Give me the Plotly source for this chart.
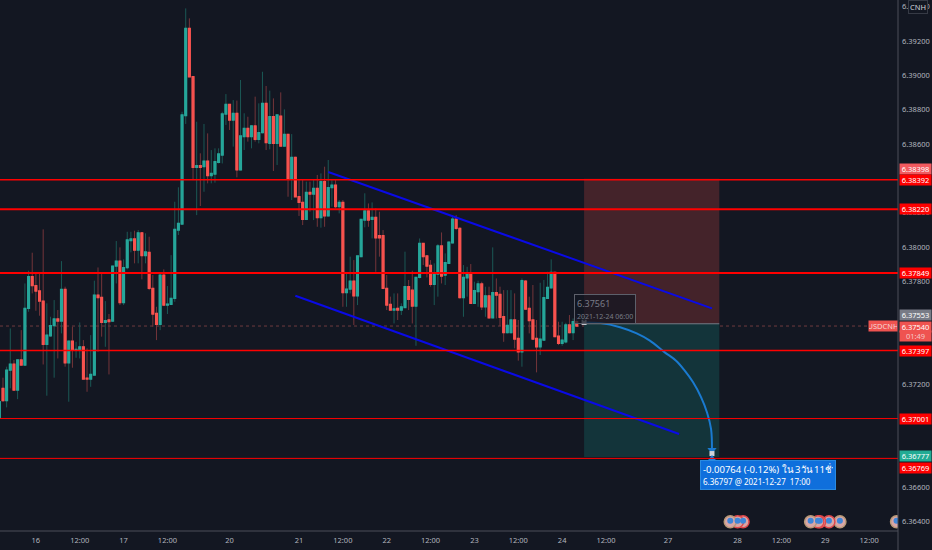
import numpy as np
import pandas as pd
import plotly.graph_objects as go

# hourly USDCNH bars, session closes sat 05:00 / opens mon 05:00
times = list(pd.date_range("2021-12-15 14:00", periods=63, freq="h")) + list(pd.date_range("2021-12-20 05:00", periods=96, freq="h"))

open_ = [6.37002,6.37177,6.37105,6.37283,6.37318,6.37167,6.37342,6.37313,6.37643,6.37827,
6.37775,6.37744,6.37685,6.37433,6.37483,6.37542,6.37581,6.37569,6.37753,6.37326,
6.37452,6.37400,6.37400,6.37419,6.37237,6.37231,6.37254,6.37720,6.37707,6.37561,
6.37575,6.37569,6.37889,6.37918,6.37676,6.37880,6.38037,6.38047,6.37982,6.38083,
6.37950,6.37969,6.37759,6.37614,6.37549,6.37837,6.37662,6.37666,6.37701,6.38099,
6.38134,6.38765,6.39274,6.38992,6.38464,6.38474,6.38468,6.38501,6.38416,6.38425,
6.38493,6.38536,6.38775,6.38831,6.38740,6.38779,6.38449,6.38643,6.38691,6.38643,
6.38705,6.38627,6.38666,6.38837,6.38604,6.38759,6.38604,6.38763,6.38588,6.38656,
6.38396,6.38522,6.38293,6.38260,6.38161,6.38318,6.38309,6.38342,6.38171,6.38381,
6.38181,6.38346,6.38361,6.38235,6.38260,6.37734,6.37755,6.37802,6.37716,6.37944,
6.38157,6.38210,6.38161,6.38173,6.38066,6.38066,6.37759,6.37666,6.37633,6.37643,
6.37633,6.37648,6.37769,6.37749,6.37656,6.37823,6.38021,6.37948,6.37893,6.37782,
6.37843,6.38006,6.37837,6.37905,6.38025,6.38163,6.38109,6.37705,6.37821,6.37850,
6.37672,6.37740,6.37785,6.37652,6.37716,6.37588,6.37734,6.37724,6.37594,6.37501,
6.37501,6.37575,6.37468,6.37390,6.37802,6.37643,6.37575,6.37468,6.37419,6.37458,
6.37701,6.37763,6.37852,6.37481,6.37439,6.37448,6.37546,6.37501,6.37565]

high = [6.37118,6.37239,6.37303,6.37526,6.37342,6.37346,6.37516,6.37788,6.37862,6.37967,
6.37847,6.37847,6.38103,6.37672,6.37594,6.37691,6.37633,6.37918,6.37769,6.37452,
6.37536,6.37448,6.37561,6.37458,6.37410,6.37487,6.37804,6.37881,6.37850,6.37685,
6.37610,6.37889,6.38035,6.37998,6.37928,6.38089,6.38089,6.38095,6.38099,6.38083,
6.38080,6.38060,6.37837,6.37652,6.37843,6.37870,6.37773,6.37953,6.38264,6.38348,
6.38788,6.39390,6.39332,6.38996,6.38730,6.38546,6.38717,6.38662,6.38565,6.38575,
6.38575,6.38788,6.38891,6.38831,6.38856,6.38853,6.38973,6.38779,6.38759,6.38711,
6.38876,6.38837,6.39021,6.38938,6.38911,6.38866,6.38769,6.38901,6.38802,6.38656,
6.38658,6.38526,6.38390,6.38390,6.38381,6.38381,6.38390,6.38420,6.38429,6.38468,
6.38507,6.38390,6.38390,6.38274,6.38274,6.37850,6.37944,6.37924,6.37948,6.38161,
6.38313,6.38254,6.38260,6.38225,6.38206,6.38099,6.37837,6.37711,6.37730,6.37730,
6.37672,6.37973,6.37808,6.37862,6.37823,6.38050,6.38021,6.37953,6.37924,6.37905,
6.38017,6.38085,6.37963,6.38029,6.38186,6.38186,6.38115,6.37895,6.37885,6.37901,
6.37798,6.37804,6.37798,6.37769,6.37769,6.37998,6.37817,6.37769,6.37749,6.37749,
6.37749,6.37730,6.37575,6.37817,6.37808,6.37711,6.37779,6.37575,6.37792,6.37808,
6.37856,6.37928,6.37856,6.37565,6.37565,6.37559,6.37604,6.37584,6.37594]

low = [6.36996,6.37099,6.37066,6.37177,6.37163,6.37114,6.37313,6.37313,6.37623,6.37730,
6.37629,6.37600,6.37316,6.37134,6.37478,6.37239,6.37351,6.37497,6.37303,6.37099,
6.37297,6.37355,6.37351,6.37231,6.37157,6.37186,6.37254,6.37390,6.37478,6.37419,
6.37258,6.37565,6.37788,6.37662,6.37662,6.37870,6.37969,6.37905,6.37905,6.37812,
6.37905,6.37749,6.37536,6.37458,6.37516,6.37656,6.37610,6.37662,6.37681,6.38070,
6.38134,6.38717,6.38992,6.38390,6.38186,6.38239,6.38322,6.38371,6.38371,6.38375,
6.38487,6.38487,6.38711,6.38682,6.38585,6.38406,6.38449,6.38565,6.38614,6.38575,
6.38614,6.38604,6.38662,6.38565,6.38569,6.38443,6.38478,6.38585,6.38585,6.38293,
6.38274,6.38293,6.38181,6.38128,6.38157,6.38206,6.38157,6.38118,6.38113,6.38118,
6.38181,6.38235,6.38225,6.38196,6.37652,6.37652,6.37730,6.37546,6.37662,6.37944,
6.38115,6.38118,6.38050,6.37856,6.37944,6.37755,6.37633,6.37633,6.37555,6.37575,
6.37604,6.37648,6.37633,6.37555,6.37425,6.37817,6.37895,6.37823,6.37769,6.37662,
6.37711,6.37788,6.37779,6.37901,6.38021,6.38099,6.37701,6.37594,6.37711,6.37672,
6.37672,6.37652,6.37633,6.37594,6.37584,6.37588,6.37584,6.37540,6.37448,6.37497,
6.37497,6.37410,6.37338,6.37303,6.37633,6.37497,6.37458,6.37270,6.37371,6.37458,
6.37701,6.37759,6.37478,6.37429,6.37425,6.37439,6.37497,6.37458,6.37536]

close = [6.37099,6.37105,6.37283,6.37318,6.37167,6.37342,6.37313,6.37643,6.37827,6.37775,
6.37744,6.37685,6.37433,6.37487,6.37542,6.37581,6.37569,6.37753,6.37326,6.37452,
6.37400,6.37404,6.37419,6.37231,6.37231,6.37258,6.37720,6.37705,6.37561,6.37571,
6.37565,6.37889,6.37918,6.37676,6.37880,6.38041,6.38047,6.37982,6.38083,6.37950,
6.37971,6.37759,6.37610,6.37549,6.37837,6.37662,6.37668,6.37701,6.38103,6.38138,
6.38769,6.39274,6.38992,6.38464,6.38474,6.38464,6.38501,6.38416,6.38429,6.38497,
6.38542,6.38775,6.38831,6.38740,6.38779,6.38449,6.38647,6.38691,6.38643,6.38705,
6.38627,6.38666,6.38837,6.38608,6.38759,6.38604,6.38769,6.38588,6.38656,6.38396,
6.38522,6.38293,6.38260,6.38161,6.38318,6.38309,6.38342,6.38171,6.38381,6.38181,
6.38346,6.38361,6.38235,6.38260,6.37734,6.37755,6.37802,6.37716,6.37948,6.38161,
6.38210,6.38157,6.38173,6.38054,6.38054,6.37759,6.37662,6.37633,6.37639,6.37633,
6.37652,6.37769,6.37695,6.37656,6.37823,6.38021,6.37944,6.37889,6.37782,6.37843,
6.38006,6.37831,6.37909,6.38029,6.38163,6.38109,6.37705,6.37823,6.37850,6.37672,
6.37746,6.37785,6.37652,6.37716,6.37588,6.37734,6.37720,6.37590,6.37501,6.37544,
6.37575,6.37464,6.37390,6.37804,6.37639,6.37571,6.37464,6.37419,6.37464,6.37705,
6.37765,6.37852,6.37478,6.37439,6.37458,6.37546,6.37501,6.37565,6.37540]

# horizontal levels: price, width
levels = [6.38392, 6.38220, 6.37849, 6.37397, 6.37001, 6.36769]
level_widths = [1.5, 2, 2, 1.5, 1, 1]

# channel lines
upper_x = ["2021-12-21 08:00", "2021-12-27 17:00"]
upper_y = [6.38437, 6.37643]
lower_x = ["2021-12-20 23:00", "2021-12-27 08:00"]
lower_y = [6.37716, 6.36911]

# forecast arc
arc_x = ["2021-12-24 06:00", "2021-12-24 10:30", "2021-12-24 15:50", "2021-12-24 20:24", "2021-12-25 00:00",
         "2021-12-25 04:00", "2021-12-27 07:10", "2021-12-27 09:20", "2021-12-27 11:50", "2021-12-27 14:00",
         "2021-12-27 15:40", "2021-12-27 16:45", "2021-12-27 17:00"]
arc_y = [6.37561, 6.37557, 6.37533, 6.37497, 6.37455, 6.37388, 6.37338, 6.37286, 6.37212, 6.37126,
         6.37035, 6.36940, 6.36818]

# long/short position tool
pos_start, pos_end = "2021-12-24 06:00", "2021-12-27 19:00"
pos_stop, pos_entry, pos_target = 6.38398, 6.37553, 6.36777

# economic event badges
event_x = ["2021-12-29 19:30", "2021-12-29 04:00", "2021-12-29 01:00", "2021-12-28 22:30", "2021-12-28 22:00",
           "2021-12-28 20:00", "2021-12-28 01:30", "2021-12-28 00:00", "2021-12-27 22:00"]
event_ring = ["#b99a78", "#b99a78", "#e0484c", "#e0484c", "#e0484c", "#b99a78", "#e0484c", "#e0484c", "#b99a78"]
event_price = 6.36400

x_ticks = ["2021-12-16 00:00", "2021-12-16 12:00", "2021-12-17 00:00", "2021-12-17 12:00", "2021-12-20 05:00",
           "2021-12-21 00:00", "2021-12-21 12:00", "2021-12-22 00:00", "2021-12-22 12:00", "2021-12-23 00:00",
           "2021-12-23 12:00", "2021-12-24 00:00", "2021-12-24 12:00", "2021-12-27 05:00", "2021-12-28 00:00",
           "2021-12-28 12:00", "2021-12-29 00:00", "2021-12-29 12:00"]
x_labels = ["16", "12:00", "17", "12:00", "20", "21", "12:00", "22", "12:00", "23", "12:00", "24", "12:00",
            "27", "28", "12:00", "29", "12:00"]
y_ticks = [6.364, 6.366, 6.368, 6.370, 6.372, 6.374, 6.376, 6.378, 6.380, 6.382, 6.384, 6.386, 6.388, 6.390, 6.392, 6.394]

BG = "#131722"
UP, DOWN = "#26a69a", "#f9534f"
UP_WICK, DOWN_WICK = "#1b5855", "#74353a"
FONT = "Noto Sans, Open Sans, sans-serif"
W, H = 898, 531  # plot area in px

fig = go.Figure()

# wicks
fig.add_trace(go.Candlestick(x=times, open=open_, high=high, low=low, close=close,
                             increasing=dict(line=dict(color=UP_WICK, width=1), fillcolor=UP_WICK),
                             decreasing=dict(line=dict(color=DOWN_WICK, width=1), fillcolor=DOWN_WICK),
                             hoverinfo="skip"))
# bodies on top, wicks cut off
fig.add_trace(go.Candlestick(x=times, open=open_, close=close,
                             high=np.maximum(open_, close), low=np.minimum(open_, close),
                             increasing=dict(line=dict(color=UP, width=1.3), fillcolor=UP),
                             decreasing=dict(line=dict(color=DOWN, width=1.3), fillcolor=DOWN),
                             hoverinfo="skip"))

fig.add_trace(go.Scatter(x=upper_x, y=upper_y, mode="lines", line=dict(color="#0a0ae6", width=2)))
fig.add_trace(go.Scatter(x=lower_x, y=lower_y, mode="lines", line=dict(color="#0a0ae6", width=2)))
fig.add_trace(go.Scatter(x=arc_x, y=arc_y, mode="lines", line=dict(color="#1a7ad0", width=2, shape="spline")))
fig.add_trace(go.Scatter(x=arc_x[-1:], y=arc_y[-1:], mode="markers",
                         marker=dict(symbol="triangle-down", size=8, color="#1a7ad0")))
fig.add_trace(go.Scatter(x=[arc_x[0], arc_x[-1]], y=[arc_y[0], 6.36797], mode="markers",
                         marker=dict(symbol="square", size=5, color="#d1d4dc")))
# pointers of the two note boxes
fig.add_trace(go.Scatter(x=arc_x[-1:], y=[6.36765], mode="markers",
                         marker=dict(symbol="triangle-up", size=8, color="#1a7fe0")))
fig.add_trace(go.Scatter(x=arc_x[:1], y=[6.37586], mode="markers",
                         marker=dict(symbol="triangle-down-open", size=6, color="#5d606b", line=dict(width=1))))

# event badges: striped disc with a coloured ring and a blue canton
fig.add_trace(go.Scatter(x=event_x, y=[event_price] * len(event_x), mode="markers",
                         marker=dict(symbol="circle", size=12, color="#d9a6a6", line=dict(color=event_ring, width=1.5))))
fig.add_trace(go.Scatter(x=event_x, y=[event_price + 0.00006] * len(event_x), mode="markers",
                         marker=dict(symbol="circle", size=6, color="#3f86d8")))

# position zones, levels and last price line
shapes = [
    dict(type="rect", x0=pos_start, x1=pos_end, y0=pos_entry, y1=pos_stop, fillcolor="#44232a", line_width=0, layer="below"),
    dict(type="rect", x0=pos_start, x1=pos_end, y0=pos_target, y1=pos_entry, fillcolor="#13343a", line_width=0, layer="below"),
    dict(type="line", x0=pos_start, x1=pos_end, y0=pos_entry, y1=pos_entry, line=dict(color="#787b86", width=1), layer="below"),
    dict(type="line", xref="paper", x0=0, x1=1, y0=6.3754, y1=6.3754, line=dict(color="#6e3b3f", width=1, dash="dot"), layer="below"),
]
for lv, w in zip(levels, level_widths):
    shapes.append(dict(type="line", xref="paper", x0=0, x1=1, y0=lv, y1=lv, line=dict(color="#ff0000", width=w)))
# axis frame runs into the corner
shapes.append(dict(type="line", xref="paper", yref="paper", x0=1, x1=1, y0=-19 / H, y1=1, line=dict(color="#4c4f59", width=1)))
shapes.append(dict(type="line", xref="paper", yref="paper", x0=0, x1=1, y0=0, y1=0, line=dict(color="#4c4f59", width=1)))

annotations = []


def right_label(price, text, bg, color="#ffffff", shift=0):
    annotations.append(dict(xref="paper", x=1, xshift=1, xanchor="left", yref="y", y=price, yshift=shift, yanchor="middle",
                            text=text, showarrow=False, bgcolor=bg, width=31, height=10, borderpad=0,
                            font=dict(size=7.5, color=color, family=FONT)))


right_label(6.38398, "6.38398", "#f25a5f", shift=10)
right_label(6.38392, "6.38392", "#ff0000")
right_label(6.38220, "6.38220", "#ff0000")
right_label(6.37849, "6.37849", "#ff0000")
right_label(6.37553, "6.37553", "#787b86", shift=9)
right_label(6.37540, "6.37540", "#ef5350", shift=-1)
right_label(6.37540, "01:49", "#ef5350", color="#f5c6c5", shift=-10)
right_label(6.37397, "6.37397", "#ff0000")
right_label(6.37001, "6.37001", "#ff0000")
right_label(6.36777, "6.36777", "#22ab94", shift=1)
right_label(6.36769, "6.36769", "#ff0000", shift=-10)

# symbol tag beside the last price
annotations.append(dict(xref="paper", x=1, xanchor="right", yref="y", y=6.3754, text="USDCNH", showarrow=False,
                        bgcolor="#ef5350", width=28, height=10, borderpad=0, font=dict(size=7.5, color="#f5d5d4", family=FONT)))
# currency badge
annotations.append(dict(xref="paper", x=1, xshift=10, xanchor="left", yref="y", y=6.394, text="CNH", showarrow=False,
                        bgcolor=BG, bordercolor="#363a45", borderwidth=1, borderpad=1, font=dict(size=7.5, color="#d1d4dc", family=FONT)))
# start price tooltip
annotations.append(dict(xref="paper", x=574 / W, xanchor="left", yref="paper", y=1 - 294 / H, yanchor="top",
                        text="6.37561<br><span style='font-size:7px'>2021-12-24 06:00</span>", showarrow=False, align="left",
                        bgcolor="rgba(19,23,34,0.75)", bordercolor="#5d606b", borderwidth=1, borderpad=2,
                        font=dict(size=9, color="#787b86", family=FONT)))
# result box
annotations.append(dict(xref="paper", x=700 / W, xanchor="left", yref="paper", y=1 - 460 / H, yanchor="top",
                        text="-0.00764 (-0.12%) ใน 3วัน 11ชั่วโมง<br><span style='font-size:8px'>6.36797 @ 2021-12-27  17:00</span>",
                        showarrow=False, align="left", width=130, bgcolor="#0f6fdc", bordercolor="#2a8ae0", borderwidth=1, borderpad=2,
                        font=dict(size=9.5, color="#ffffff", family=FONT)))

fig.update_layout(
    width=932, height=550, margin=dict(l=0, r=34, t=0, b=19),
    paper_bgcolor=BG, plot_bgcolor=BG, showlegend=False,
    font=dict(family=FONT, size=7.5, color="#b2b5be"),
    shapes=shapes, annotations=annotations,
)
fig.update_xaxes(
    range=["2021-12-15 14:11", "2021-12-29 19:54"],
    rangeslider_visible=False, showgrid=False, zeroline=False, ticks="",
    tickmode="array", tickvals=x_ticks, ticktext=x_labels, tickangle=0, ticklabelstandoff=3,
    rangebreaks=[dict(bounds=["2021-12-18 05:00", "2021-12-20 05:00"]),
                 dict(bounds=["2021-12-25 05:00", "2021-12-27 05:00"])],
)
fig.update_yaxes(
    range=[6.36346, 6.39439], side="right", showgrid=False, zeroline=False, ticks="",
    tickmode="array", tickvals=y_ticks, tickformat=".5f", ticklabelstandoff=3,
)

# page body has a default margin, drop it so the chart fills the window
fig.write_html("out.html", config=dict(displayModeBar=False),
               post_script="document.body.style.margin='0';document.body.style.background='#131722';")
